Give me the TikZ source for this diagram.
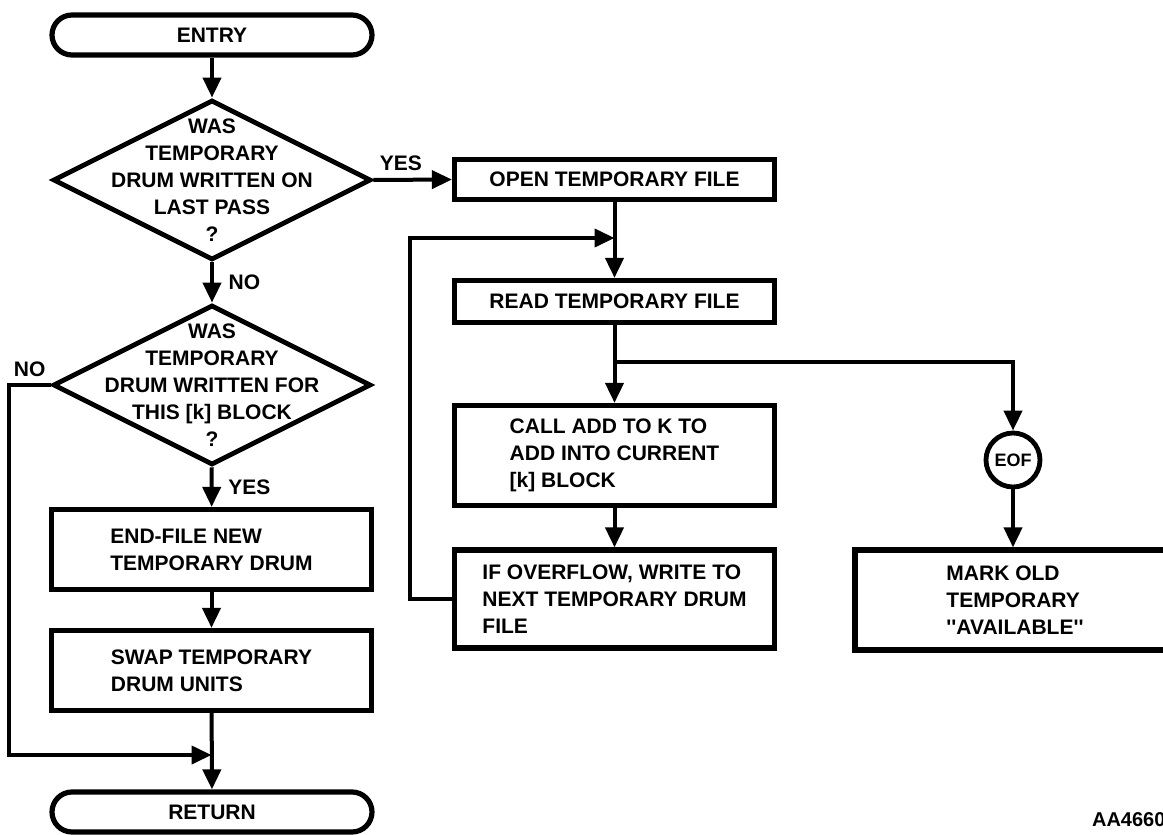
\documentclass[tikz,border=0pt]{standalone}
\usepackage{fontspec}
\setmainfont{Liberation Sans}[Ligatures=TeXOff]
\usetikzlibrary{arrows.meta,shapes.geometric}

\begin{document}
\begin{tikzpicture}[x=0.5pt,y=-0.5pt,
    every node/.style={font=\fontsize{10.5}{13.5}\selectfont\bfseries},
    box/.style={draw, line width=2.6pt, minimum width=160pt, inner sep=2pt, align=left},
    term/.style={draw, line width=2.6pt, rounded corners=10pt, minimum width=160pt, minimum height=20pt},
    decision/.style={draw, diamond, line width=2.4pt, minimum width=159pt, minimum height=80pt, inner sep=0pt},
    qtext/.style={align=center},
    flow/.style={line width=2pt, -{Triangle[length=10pt,width=9pt]}}]
    \path[use as bounding box, clip] (0,0) rectangle (1163,835);

    % left column
    \node[term] (entry) at (212,35) {ENTRY};
    \node[decision, label={[qtext]center:{WAS\\TEMPORARY\\DRUM WRITTEN ON\\LAST PASS\\?}}] (q1) at (212,180) {};
    \node[decision, label={[qtext]center:{WAS\\TEMPORARY\\DRUM WRITTEN FOR\\THIS [k] BLOCK\\?}}] (q2) at (212,385) {};
    \node[box, minimum height=40pt] (endf) at (211.5,549.5) {END-FILE NEW\\TEMPORARY DRUM};
    \node[box, minimum height=40pt] (swap) at (211.5,670.5) {SWAP TEMPORARY\\DRUM UNITS};
    \node[term] (ret) at (212,812) {RETURN};
    \coordinate (merge) at (211.5,755);

    % right column
    \node[box, minimum height=20pt] (open) at (614.5,179.5) {OPEN TEMPORARY FILE};
    \node[box, minimum height=21pt] (read) at (614.5,301.5) {READ TEMPORARY FILE};
    \node[box, minimum height=50pt] (call) at (614.5,455.5) {CALL ADD TO K TO\\ADD INTO CURRENT\\{[k]} BLOCK};
    \node[box, minimum height=49pt] (ovf) at (614.5,599) {IF OVERFLOW, WRITE TO\\NEXT TEMPORARY DRUM\\FILE};
    \coordinate (join) at (614.5,238);
    \coordinate (split) at (614.5,362);

    % end of file branch
    \node[draw, circle, line width=2.4pt, minimum size=27pt, inner sep=0pt, font=\fontsize{9}{11}\selectfont\bfseries] (eof) at (1013,460) {EOF};
    \node[box, minimum height=50pt] (mark) at (1015,600) {MARK OLD\\TEMPORARY\\''AVAILABLE''};

    \node[anchor=west, font=\fontsize{10}{12}\selectfont\bfseries] (tag) at (1085,820) {AA4660};

    % connectors
    \draw[flow] (entry) -- (q1);
    \draw[flow] (q1) -- node[right=4pt] {NO} (q2);
    \draw[flow] (q1.east) -- node[above, pos=0.35] {YES} (open.west);
    \draw[flow] (q2) -- node[right=4pt] {YES} (endf);
    \draw[flow] (q2.west) -- node[above] {NO} ++(-42,0) |- (merge);
    \draw[flow] (endf) -- (swap);
    \draw[flow] (swap) -- (ret);
    \draw[flow] (open) -- (read);
    \draw[flow] (read) -- (call);
    \draw[flow] (call) -- (ovf);
    \draw[flow] (ovf.west) -- ++(-42,0) |- (join);
    \draw[flow] (split) -| (eof);
    \draw[flow] (eof) -- (eof |- mark.north);
  \end{tikzpicture}
\end{document}
